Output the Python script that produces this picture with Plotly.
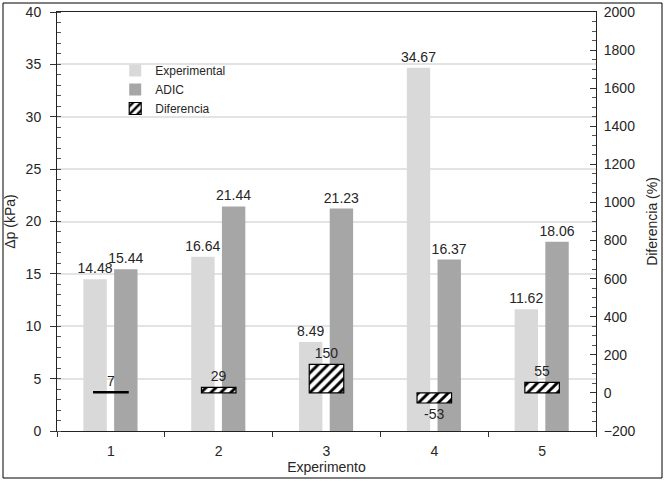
import plotly.graph_objects as go

categories = ["1", "2", "3", "4", "5"]
experimental = [14.48, 16.64, 8.49, 34.67, 11.62]
adic = [15.44, 21.44, 21.23, 16.37, 18.06]
diferencia = [7, 29, 150, -53, 55]

FONT = "Liberation Sans"
TXT = "#262626"
LBL = dict(family=FONT, size=14, color=TXT)

fig = go.Figure()
fig.add_trace(go.Bar(
    x=categories, y=experimental, name="Experimental",
    marker=dict(color="#d9d9d9", line=dict(width=0)),
    offset=-0.255, width=0.217,
    text=[f"{v:.2f}" for v in experimental], textposition="outside",
    constraintext="none", textfont=LBL, cliponaxis=False,
))
fig.add_trace(go.Bar(
    x=categories, y=adic, name="ADIC",
    marker=dict(color="#a6a6a6", line=dict(width=0)),
    offset=0.03, width=0.217,
    text=[f"{v:.2f}" for v in adic], textposition="outside",
    constraintext="none", textfont=LBL, cliponaxis=False,
))
fig.add_trace(go.Bar(
    x=categories, y=diferencia, name="Diferencia", yaxis="y2",
    marker=dict(color="black", line=dict(color="black", width=1.2),
                pattern=dict(shape="/", fillmode="replace", fgcolor="black",
                             fgopacity=1, bgcolor="white", size=7, solidity=0.42)),
    offset=-0.16, width=0.32,
    text=[f"{v:d}" for v in diferencia], textposition="outside",
    constraintext="none", textfont=LBL, cliponaxis=False,
))

fig.update_layout(
    width=665, height=481,
    margin=dict(l=57, r=69, t=12, b=50, autoexpand=False),
    paper_bgcolor="white", plot_bgcolor="white",
    barmode="overlay",
    font=dict(family=FONT, size=14, color=TXT),
    showlegend=True,
    legend=dict(x=0.108, y=0.895, xanchor="left", yanchor="top",
                bgcolor="rgba(0,0,0,0)", font=dict(family=FONT, size=12, color=TXT),
                tracegroupgap=0),
    xaxis=dict(
        type="category", tickson="boundaries", ticks="outside", ticklen=5,
        tickcolor="#333", showline=True, linecolor="#222", linewidth=1, mirror=True,
        showgrid=False, automargin=False, ticklabelstandoff=7,
        title=dict(text="Experimento", standoff=0, font=dict(family=FONT, size=14, color=TXT)),
        tickfont=dict(family=FONT, size=14, color=TXT),
    ),
    yaxis=dict(
        range=[0, 40], dtick=5, ticks="outside", ticklen=6, tickcolor="#333",
        showline=True, linecolor="#222", linewidth=1, automargin=False,
        ticklabelstandoff=6,
        showgrid=True, gridcolor="#e3e3e3", gridwidth=1.5, zeroline=False,
        minor=dict(dtick=1, ticks="inside", ticklen=4, tickcolor="#555", showgrid=False),
        title=dict(text="Δp (kPa)", standoff=6, font=dict(family=FONT, size=14, color=TXT)),
        tickfont=dict(family=FONT, size=14, color=TXT),
    ),
    yaxis2=dict(
        overlaying="y", side="right", range=[-200, 2000], dtick=200,
        ticks="inside", ticklen=6, tickcolor="#333",
        showline=True, linecolor="#222", linewidth=1, automargin=False,
        ticklabelstandoff=4,
        showgrid=False, zeroline=False,
        minor=dict(dtick=50, ticks="inside", ticklen=4, tickcolor="#555", showgrid=False),
        title=dict(text="Diferencia (%)", standoff=12, font=dict(family=FONT, size=14, color=TXT)),
        tickfont=dict(family=FONT, size=14, color=TXT),
    ),
    shapes=[dict(type="rect", xref="paper", yref="paper",
                 x0=(3 - 57) / 539, x1=(662 - 57) / 539,
                 y0=(431 - 478) / 419, y1=(431 - 3) / 419,
                 line=dict(color="black", width=1), fillcolor="rgba(0,0,0,0)")],
)

fig.write_html("out.html", config={"displayModeBar": False},
               post_script="document.body.style.margin='0';")
